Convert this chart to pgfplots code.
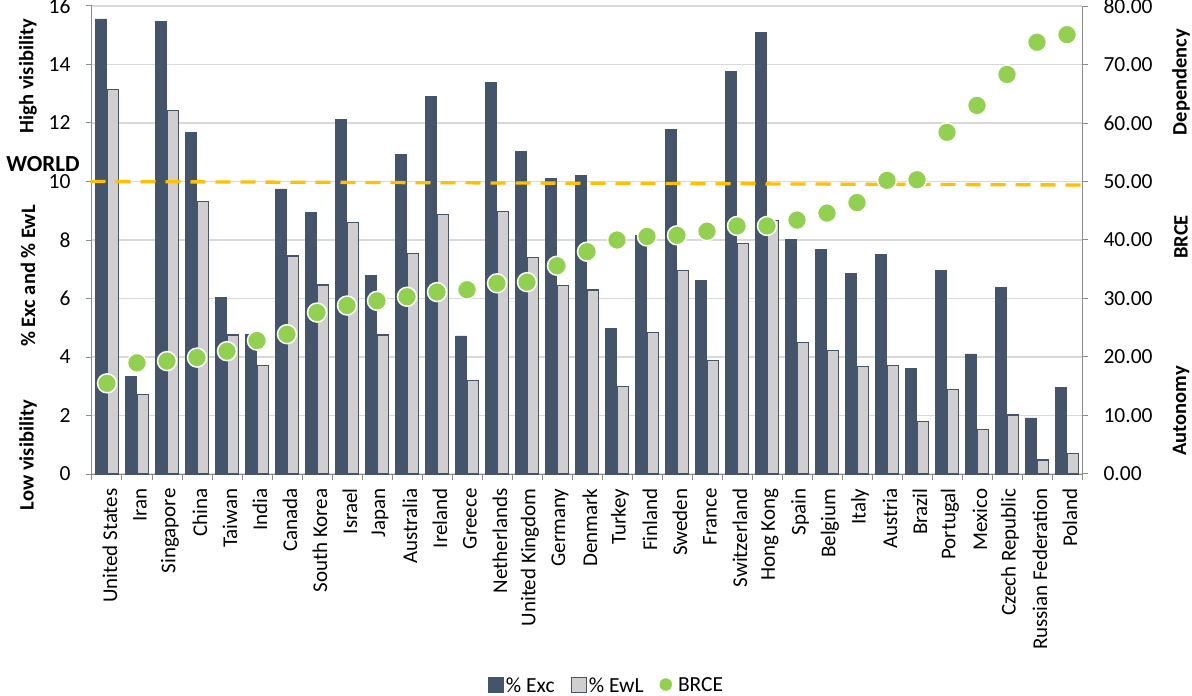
\documentclass[border=0pt]{standalone}
\usepackage{fontspec}
\setmainfont{Carlito}
\usepackage{pgfplots}
\usepackage{pgfplotstable}
\pgfplotsset{compat=1.18}
\definecolor{exc}{HTML}{44546A}
\definecolor{ewl}{HTML}{D0CECE}
\definecolor{brce}{HTML}{92D050}
\definecolor{world}{HTML}{FFC000}
\definecolor{gridc}{HTML}{D9D9D9}
\definecolor{axc}{HTML}{8C8C8C}
\pgfplotstableread{
x exc ewl brce
0 15.56 13.15 15.5
1 3.35 2.72 19.0
2 15.47 12.44 19.3
3 11.68 9.32 19.9
4 6.04 4.75 21.0
5 4.78 3.70 22.8
6 9.75 7.45 23.9
7 8.95 6.46 27.6
8 12.13 8.59 28.8
9 6.80 4.75 29.6
10 10.92 7.54 30.3
11 12.90 8.87 31.1
12 4.72 3.21 31.5
13 13.39 8.98 32.6
14 11.02 7.40 32.8
15 10.10 6.45 35.6
16 10.20 6.29 38.0
17 4.99 2.99 40.0
18 8.17 4.85 40.6
19 11.79 6.95 40.8
20 6.63 3.87 41.5
21 13.77 7.87 42.4
22 15.09 8.66 42.4
23 8.01 4.49 43.4
24 7.68 4.22 44.6
25 6.86 3.67 46.4
26 7.51 3.72 50.2
27 3.62 1.79 50.3
28 6.97 2.90 58.4
29 4.11 1.53 63.0
30 6.37 2.02 68.3
31 1.92 0.48 73.8
32 2.95 0.69 75.1
}\data
\begin{document}
\begin{tikzpicture}
\useasboundingbox (-92pt,-222pt) rectangle (1100pt,474pt);
\begin{axis}[
  scale only axis, width=990pt, height=468pt,
  xmin=-0.5, xmax=32.5, ymin=0, ymax=16,
  ybar=1.5pt, bar width=11pt,
  axis x line*=bottom, axis y line*=left,
  axis line style={draw=axc, line width=1pt},
  xtick={0,...,32},
  xticklabels={United States, Iran, Singapore, China, Taiwan, India, Canada, South Korea, Israel, Japan, Australia, Ireland, Greece, Netherlands, United Kingdom, Germany, Denmark, Turkey, Finland, Sweden, France, Switzerland, Hong Kong, Spain, Belgium, Italy, Austria, Brazil, Portugal, Mexico, Czech Republic, Russian Federation, Poland},
  major x tick style={draw=none},
  minor xtick={-0.5,0.5,...,32.5},
  tick align=outside,
  major tick length=6pt, minor tick length=6pt,
  every tick/.style={draw=axc, line width=1pt},
  ytick={0,2,...,16},
  ymajorgrids, grid style={draw=gridc, line width=1.2pt},
  xticklabel style={rotate=90, anchor=east, font=\fontsize{21}{25}\selectfont, yshift=-3pt, xshift=-5pt},
  yticklabel style={font=\fontsize{21.5}{25}\selectfont, xshift=-12pt},
  /pgf/number format/assume math mode=true,
  legend style={at={(0.52,-0.452)}, anchor=center, draw=none, fill=none,
    font=\fontsize{21.5}{25}\selectfont,
    /tikz/every even column/.append style={column sep=14pt}},
  legend columns=3, legend cell align=left,
]
\addplot[fill=exc, draw=exc, line width=0.5pt,
  legend image code/.code={\draw[fill=exc, draw=exc] (0pt,-7pt) rectangle (15pt,8pt);}]
  table[x=x, y=exc] {\data};
\addlegendentry{\% Exc}
\addplot[fill=ewl, draw=exc, line width=1.2pt,
  legend image code/.code={\draw[fill=ewl, draw=exc, line width=1.2pt] (0pt,-7pt) rectangle (15pt,8pt);}]
  table[x=x, y=ewl] {\data};
\addlegendentry{\% EwL}
\addlegendimage{legend image code/.code={\fill[brce] (6pt,1pt) circle (6pt); \path (16pt,0pt);}}
\addlegendentry{BRCE}
\end{axis}
\begin{axis}[
  scale only axis, width=990pt, height=468pt,
  xmin=-0.5, xmax=32.5, ymin=0, ymax=80,
  axis y line*=right, axis x line=none,
  axis line style={draw=axc, line width=1pt},
  tick align=outside, major tick length=6pt,
  every tick/.style={draw=axc, line width=1pt},
  ytick={0,10,...,80},
  yticklabel style={/pgf/number format/.cd, fixed, fixed zerofill, precision=2, /tikz/.cd, font=\fontsize{21.5}{25}\selectfont, xshift=12pt},
  /pgf/number format/assume math mode=true,
  clip=false,
]
\addplot[world, line width=3.3pt, dash pattern=on 15pt off 10pt] coordinates {(-0.55,50.0) (32.6,49.4)};
\addplot[only marks, mark=*, mark size=9.5pt, mark options={fill=brce, draw=white, line width=1.5pt}]
  table[x=x, y=brce] {\data};
\end{axis}
\node[rotate=90, font=\bfseries\fontsize{20.5}{24}\selectfont] at (-64pt,398pt) {High visibility};
\node[rotate=90, font=\bfseries\fontsize{20.5}{24}\selectfont] at (-64pt,198pt) {\% Exc and \% EwL};
\node[rotate=90, font=\bfseries\fontsize{20.5}{24}\selectfont] at (-64pt,19pt) {Low visibility};
\node[font=\bfseries\fontsize{23}{27}\selectfont] at (-49pt,310pt) {WORLD};
\node[rotate=90, font=\bfseries\fontsize{20.5}{24}\selectfont] at (1089pt,392pt) {Dependency};
\node[rotate=90, font=\bfseries\fontsize{20.5}{24}\selectfont] at (1089pt,237pt) {BRCE};
\node[rotate=90, font=\bfseries\fontsize{20.5}{24}\selectfont] at (1089pt,63pt) {Autonomy};
\end{tikzpicture}
\end{document}
